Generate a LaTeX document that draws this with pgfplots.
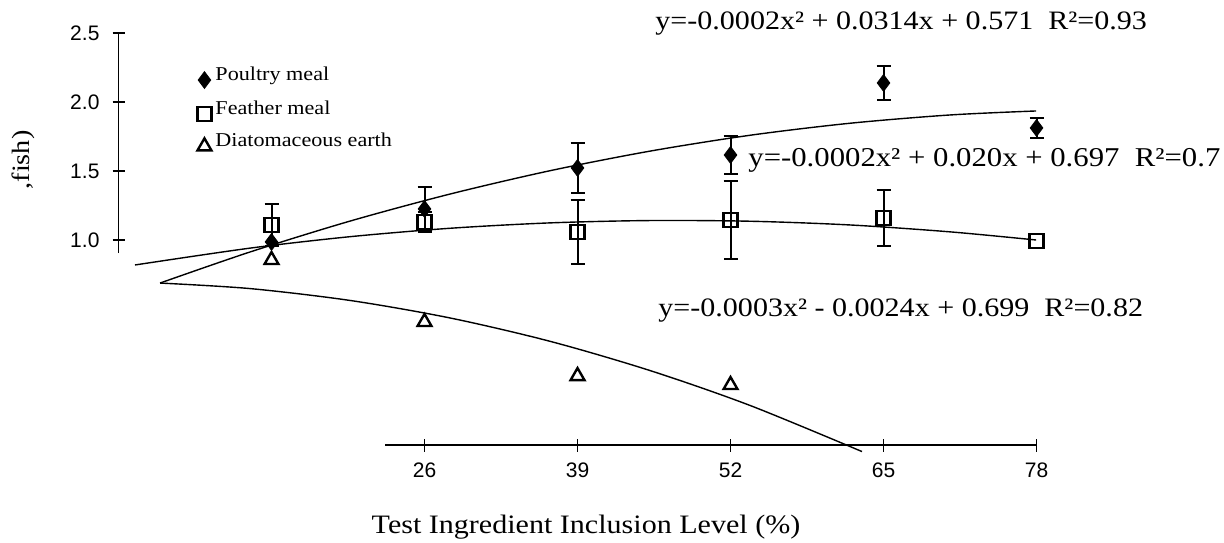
\documentclass[border=0pt]{standalone}
\usepackage{fontspec}
\setmainfont{Liberation Serif}[FakeStretch=1.13]
\newfontfamily\tickfont{Liberation Sans}
\usepackage{pgfplots}
\pgfplotsset{compat=1.18}
\begin{document}
\begin{tikzpicture}
\useasboundingbox (0,0) rectangle (612pt,271pt);
% main data axis (hidden), 1 px = 0.5pt
\begin{axis}[at={(0pt,0pt)}, anchor=south west, scale only axis,
  width=612pt, height=271pt,
  xmin=-10.069, xmax=93.93, ymin=-1.1884, ymax=2.7391,
  axis lines=none, clip=false,
  legend style={at={(0.161,0.885)}, anchor=north west, draw=none, fill=none,
    inner sep=0pt, font=\fontsize{9.8pt}{11.5pt}\selectfont, row sep=4pt,
    cells={anchor=west}},
  legend image code/.code={\draw[only marks,#1] plot coordinates {(0pt,-2.5pt)};},
]
% fitted curves
\addplot[black, line width=0.7pt, smooth, forget plot] coordinates {
 (3.53,0.688) (11.17,0.913) (19.67,1.137) (28.17,1.333) (36.66,1.502)
 (45.16,1.644) (53.66,1.759) (62.15,1.846) (70.65,1.906) (77.96,1.935)};
\addplot[black, line width=0.7pt, smooth, forget plot] coordinates {
 (1.40,0.819) (11.17,0.941) (19.67,1.024) (28.17,1.085) (36.66,1.124)
 (45.16,1.141) (53.66,1.136) (62.15,1.109) (70.65,1.059) (77.96,1.000)};
\addplot[black, line width=0.7pt, smooth, forget plot] coordinates {
 (3.53,0.688) (11.17,0.648) (19.67,0.562) (28.17,0.435) (36.66,0.266)
 (45.16,0.054) (53.66,-0.199) (63.17,-0.533)};
% Poultry meal
\addplot[black, only marks, mark=diamond*, mark size=4.2pt,
  error bars/.cd, y dir=both, y explicit, error mark=-,
  error bar style={line width=1pt, black},
  error mark options={rotate=90, line width=1pt, mark size=3.5pt, black}]
  coordinates {(26,1.225) +- (0,0.16) (39,1.522) +- (0,0.18) (52,1.616) +- (0,0.14)
   (65,2.138) +- (0,0.12) (78,1.812) +- (0,0.07)};
\addlegendentry{Poultry meal}
\addplot[black, only marks, mark=diamond*, mark size=4.2pt, forget plot]
  coordinates {(13,0.986)};
% Feather meal
\addplot[black, only marks, mark=square, mark size=3.5pt, mark options={line width=1.2pt},
  error bars/.cd, y dir=both, y explicit, error mark=-,
  error bar style={line width=1pt, black},
  error mark options={rotate=90, line width=1pt, mark size=3.5pt, black}]
  coordinates {(13,1.109) +- (0,0.15) (26,1.130) +- (0,0.072) (39,1.058) +- (0,0.235)
   (52,1.145) +- (0,0.28) (65,1.159) +- (0,0.205)};
\addlegendentry{Feather meal}
\addplot[black, only marks, mark=square, mark size=3.5pt, mark options={line width=1.2pt}, forget plot]
  coordinates {(78,0.993)};
% Diatomaceous earth
\addplot[black, only marks, mark=triangle, mark size=4pt, mark options={line width=1.2pt}]
  coordinates {(13,0.855) (26,0.406) (39,0.014) (52,-0.051)};
\addlegendentry{Diatomaceous earth}
\end{axis}
% y axis
\begin{axis}[at={(59.25pt,144.5pt)}, anchor=south west, scale only axis,
  width=2pt, height=110pt, xmin=0, xmax=1, ymin=0.9058, ymax=2.5,
  axis x line=none, axis y line*=left,
  ytick={1,1.5,2,2.5}, yticklabels={1.0,1.5,2.0,2.5},
  tick align=center, major tick length=6pt,
  yticklabel style={font=\tickfont\fontsize{10.5pt}{12pt}\selectfont, xshift=-3pt},
  axis line style={line width=0.7pt}, tick style={line width=0.7pt, black}]
\end{axis}
% x axis
\begin{axis}[at={(192.5pt,48.5pt)}, anchor=south west, scale only axis,
  width=325.75pt, height=2pt, xmin=22.64, xmax=78, ymin=0, ymax=1,
  axis y line=none, axis x line*=bottom,
  xtick={26,39,52,65,78}, xticklabels={26,39,52,65,78},
  tick align=center, major tick length=6.5pt,
  xticklabel style={font=\tickfont\fontsize{10.5pt}{12pt}\selectfont, yshift=-2pt},
  axis line style={line width=0.7pt}, tick style={line width=0.7pt, black}]
\end{axis}
% texts
\node[anchor=base west, inner sep=0pt, font=\fontsize{13.3pt}{15pt}\selectfont] at (327.5pt,256pt)
  {y=-0.0002x² + 0.0314x + 0.571~~R²=0.93};
\node[anchor=base west, inner sep=0pt, font=\fontsize{13.6pt}{15pt}\selectfont] at (374pt,188pt)
  {y=-0.0002x² + 0.020x + 0.697~~R²=0.7};
\node[anchor=base west, inner sep=0pt, font=\fontsize{13.3pt}{15pt}\selectfont] at (329pt,113pt)
  {y=-0.0003x² - 0.0024x + 0.699~~R²=0.82};
\node[anchor=base, inner sep=0pt, font=\fontsize{13.3pt}{15pt}\selectfont] at (293pt,4.5pt)
  {Test Ingredient Inclusion Level (\%)};
\node[rotate=90, inner sep=0pt, font=\fontsize{12.5pt}{14pt}\selectfont] at (11.5pt,191pt) {,fish)};
\end{tikzpicture}
\end{document}
